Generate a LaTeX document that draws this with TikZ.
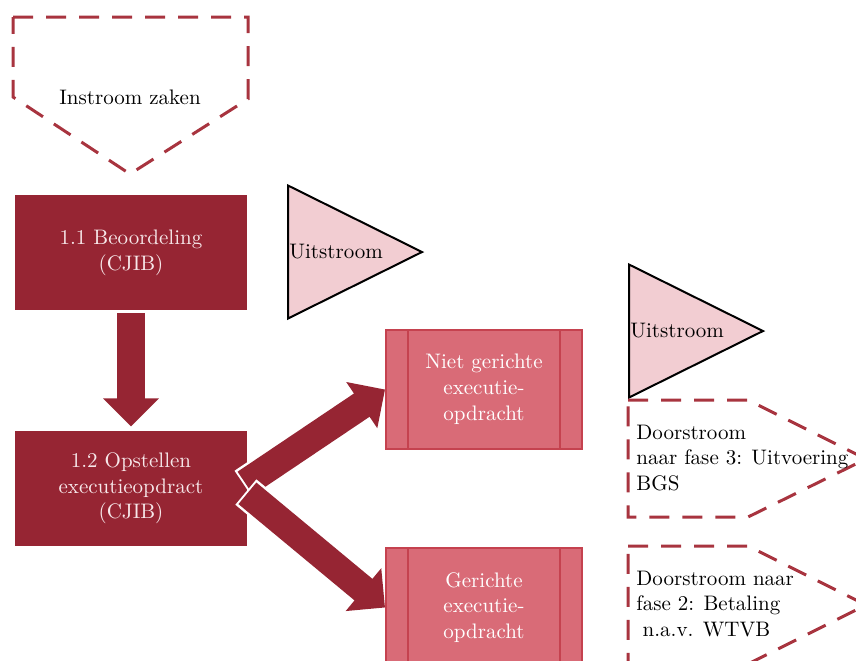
\documentclass[tikz,border=0pt]{standalone}
\usepackage{tikz}
\usetikzlibrary{positioning,arrows.meta,calc,shapes.geometric}
\definecolor{cjibdark}{HTML}{962533}
\definecolor{cjibmid}{HTML}{D96B77}
\definecolor{cjibline}{HTML}{C5424F}
\definecolor{cjibpink}{HTML}{F2CDD2}
\definecolor{cjibdash}{HTML}{A8343F}
\definecolor{cjibtext}{HTML}{F7E8EA}
\tikzset{
  >=Stealth,
  every node/.style={font=\fontsize{10.5}{12.9}\selectfont},
}

\begin{document}
\begin{tikzpicture}[
  x=0.5pt,y=-0.5pt,
  phase/.style={rectangle,fill=cjibdark,text=cjibtext,align=center,
    minimum width=116pt,minimum height=57.5pt,inner sep=0pt},
  order/.style={rectangle,draw=cjibline,line width=1pt,fill=cjibmid,text=white,
    align=center,minimum width=98pt,minimum height=59.5pt,inner sep=0pt},
  procline/.style={draw=cjibline,line width=1pt},
  exit/.style={isosceles triangle,isosceles triangle stretches,draw=black,
    line width=1pt,fill=cjibpink,minimum width=66.5pt,minimum height=67pt,inner sep=0pt},
  flow/.style={draw=cjibdash,line width=1.5pt,dash pattern=on 10pt off 6.5pt},
  plain/.style={text=black,inner sep=1pt},
  bigarrow/.style={draw=cjibdark,line width=14pt,-{Triangle[width=27pt,length=14pt]},
    preaction={draw=white,line width=16.5pt,-,shorten >=13pt,shorten <=-1pt}},
]
\useasboundingbox (0,0) rectangle (856,660);

% phases
\node[phase] (beoord) at (131,252.5) {1.1 Beoordeling\\(CJIB)};
\node[phase,below=60pt of beoord] (opstel) {1.2 Opstellen\\executieopdract\\(CJIB)};

% orders
\node[order] (niet) at (484,389.5) {Niet gerichte\\executie-\\opdracht};
\node[order,below=48.5pt of niet] (gericht) {Gerichte\\executie-\\opdracht};
\foreach \n in {niet,gericht}
  \draw[procline] ([xshift=11.5pt]\n.north west) -- ([xshift=11.5pt]\n.south west)
    ([xshift=-11.5pt]\n.north east) -- ([xshift=-11.5pt]\n.south east);

% uitstroom
\node[exit,anchor=lower side] (exit1) at (287,252) {};
\node[plain,right=0pt of exit1.lower side] (exit1txt) {Uitstroom};
\node[exit,anchor=lower side] (exit2) at (628,331) {};
\node[plain,right=0pt of exit2.lower side] (exit2txt) {Uitstroom};

% in- en doorstroom
\draw[flow] (13,17) -- (248,17) -- (248,99) -- (130,174) -- (13,97) -- cycle;
\node[plain] (instroom) at (130,97) {Instroom zaken};
\draw[flow] (628,400) -- (748,400) -- (866,459) -- (748,517) -- (628,517) -- cycle;
\node[plain,align=left,anchor=west] (door3) at (634,458)
  {Doorstroom\\naar fase 3: Uitvoering\\BGS};
\draw[flow] (628,546) -- (748,546) -- (866,605) -- (748,664) -- (628,664) -- cycle;
\node[plain,align=left,anchor=west] (door2) at (634,604)
  {Doorstroom naar\\fase 2: Betaling\\\hspace*{0.3em}n.a.v. WTVB};

% pijlen
\draw[bigarrow] ([yshift=-1.5pt]beoord.south) -- ([yshift=2pt]opstel.north);
\draw[bigarrow] ($(opstel.east)+(-2,-5)$) -- (niet.west);
\draw[bigarrow] ($(opstel.east)+(0,5)$) -- (gericht.west);

\end{tikzpicture}
\end{document}
